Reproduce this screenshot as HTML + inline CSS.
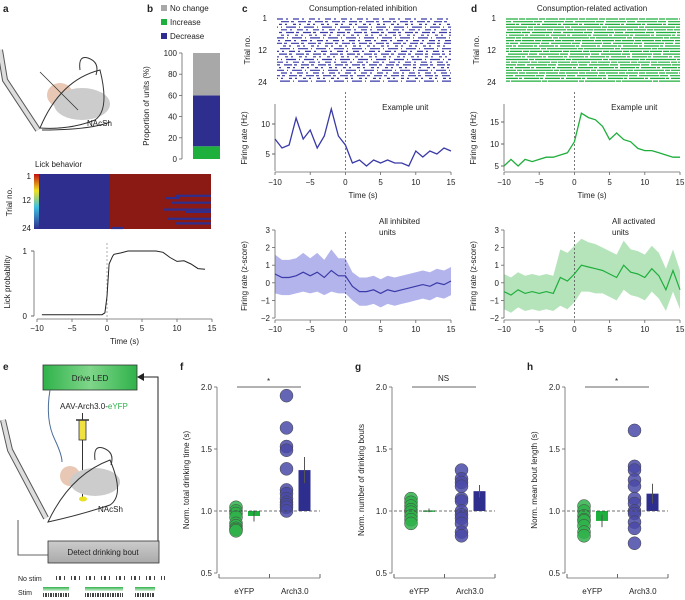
<!DOCTYPE html>
<html><head><meta charset="utf-8"><style>
body{margin:0;background:#fff}
svg{display:block;font-family:"Liberation Sans",Arial,sans-serif}
text{fill:#222}
</style></head><body>
<svg id="fig" width="685" height="600" viewBox="0 0 685 600" xmlns="http://www.w3.org/2000/svg">
<g font-weight="bold" font-size="10">
<text x="3" y="12">a</text><text x="147" y="12">b</text><text x="242" y="12">c</text><text x="471" y="12">d</text>
<text x="3" y="370">e</text><text x="180" y="370">f</text><text x="355" y="370">g</text><text x="527" y="370">h</text>
</g>
<!-- panel a drawing -->
<g fill="none" stroke="#333" stroke-width="1">
<path d="M0,50 L5,80 L38,130" stroke-width="6" stroke="#555"/>
<path d="M0,50 L5,80 L38,130" stroke-width="4" stroke="#ddd"/>
<ellipse cx="60" cy="95" rx="13" ry="12" fill="#e8c8b5" stroke="none"/>
<ellipse cx="82" cy="104" rx="28" ry="16" fill="#ccc" stroke="none"/>
<path d="M40,128 Q60,80 100,70 Q110,110 95,120 Q70,130 40,128Z"/>
<path d="M80,70 Q78,55 88,58 Q100,62 96,75"/>
<path d="M42,130 Q90,130 110,122"/>
<line x1="40" y1="72" x2="78" y2="110" stroke-width="0.8"/>
<text x="87" y="126" font-size="8" stroke="none" fill="#222">NAcSh</text>
</g>
<text x="35" y="167" font-size="8">Lick behavior</text>
<g id="lickRaster"></g>
<g id="lickProb"></g>
<g id="panelB"></g>
<g id="panelC"></g>
<g id="panelD"></g>
<!-- panel e -->
<g>
<defs><linearGradient id="gled" x1="0" x2="1" y1="0" y2="0"><stop offset="0" stop-color="#2fb24a"/><stop offset="0.5" stop-color="#7fd68a"/><stop offset="1" stop-color="#2fb24a"/></linearGradient>
<linearGradient id="ggr" x1="0" x2="0" y1="0" y2="1"><stop offset="0" stop-color="#ccc"/><stop offset="1" stop-color="#aaa"/></linearGradient>
<linearGradient id="gstim" x1="0" x2="0" y1="0" y2="1"><stop offset="0" stop-color="#2fb24a"/><stop offset="1" stop-color="#d8f0dc"/></linearGradient></defs>
<rect x="43" y="365" width="94" height="25" fill="url(#gled)" stroke="#333" stroke-width="0.8"/>
<text x="90" y="381" font-size="8" text-anchor="middle">Drive LED</text>
<path d="M158,541 L158,377 L140,377" fill="none" stroke="#222" stroke-width="1"/>
<path d="M137,377 l7,-4 l0,8z" fill="#222"/>
<path d="M50,390 Q45,420 55,440 Q62,455 62,462" fill="none" stroke="#4a6d9a" stroke-width="1"/>
<text x="60" y="409" font-size="8">AAV-Arch3.0-<tspan style="fill:#2fb24a">eYFP</tspan></text>
<rect x="79" y="420" width="7" height="20" fill="#f0e040" stroke="#333" stroke-width="0.8"/>
<line x1="82.5" y1="413" x2="82.5" y2="420" stroke="#333"/><line x1="76" y1="420" x2="89" y2="420" stroke="#333" stroke-width="1.5"/>
<line x1="82.5" y1="440" x2="82.5" y2="498" stroke="#333"/>
<ellipse cx="70" cy="476" rx="10" ry="10" fill="#e8c8b5"/>
<ellipse cx="95" cy="482" rx="25" ry="14" fill="#ccc"/>
<path d="M48,522 Q70,475 110,460 Q125,495 110,505 Q80,515 48,522Z" fill="none" stroke="#333"/>
<path d="M95,460 Q93,445 103,448 Q115,452 111,465" fill="none" stroke="#333"/>
<ellipse cx="83" cy="499" rx="4" ry="2.5" fill="#e8e020"/>
<text x="98" y="512" font-size="8">NAcSh</text>
<path d="M3,420 L10,450 L46,518" fill="none" stroke="#555" stroke-width="6"/>
<path d="M3,420 L10,450 L46,518" fill="none" stroke="#ddd" stroke-width="4"/>
<path d="M18,520 L18,555 L48,555" fill="none" stroke="#333" stroke-width="0.8"/>
<rect x="48" y="541" width="111" height="22" fill="url(#ggr)" stroke="#333" stroke-width="0.8"/>
<text x="103" y="555" font-size="8" text-anchor="middle">Detect drinking bout</text>
<text x="18" y="581" font-size="7">No stim</text><text x="18" y="595" font-size="7">Stim</text>
<g id="stimRows"></g>
</g>
<g id="panelF"></g>
<g id="panelG"></g>
<g id="panelH"></g>
</svg>
<script>
// ---- data ----
const lickT=[-9.3,-0.7,-0.3,0,0.3,0.8,1,2,3,7,8,9,10,11,12,13,14];
const lickP=[0.02,0.02,0.05,0.3,0.8,0.92,0.95,0.97,1,1,0.98,0.9,0.84,0.85,0.8,0.73,0.72];
const propCats=["Increase","Decrease","No change"];
const propVals=[12,48,40];
const timeTicks=[-10,-5,0,5,10,15];
const exTime=[-10,-9,-8,-7,-6,-5,-4,-3,-2,-1,0,1,2,3,4,5,6,7,8,9,10,11,12,13,14,15];
const inhEx=[7.5,6,6.5,11,7.5,9,6,8,12.5,8,6.5,3.5,4,3,4,3.5,4,3.5,3.5,3,5.5,4.5,5.5,5,6,5.5];
const actEx=[5,6.5,5,6.5,6,6.5,7,7,7.5,8,10.5,17,16,15.5,14,11,12.5,11,10.5,9,8.5,8.5,8,7.5,7,7];
const inhZ=[0.5,0.3,0.3,0.4,0.6,0.4,0.6,0.3,0.7,0.4,0.4,-0.2,-0.5,-0.5,-0.4,-0.6,-0.4,-0.5,-0.4,-0.3,-0.2,-0.1,-0.2,0,-0.1,0.1];
const inhZerr=[1.1,1,1,1,1.1,1,1.1,1,1.2,1,1,0.8,0.8,0.8,0.8,0.8,0.8,0.8,0.8,0.8,0.8,0.8,0.8,0.8,0.8,0.8];
const actZ=[-0.5,-0.7,-0.4,-0.6,-0.5,-0.6,-0.5,-0.6,0.3,0.1,0.5,1.0,0.9,0.8,0.7,0.5,0.3,1.0,0.6,0.5,0.3,0.8,0.4,-0.4,0.7,-0.4];
const actZerr=[1,1,1,1,1,1,1,1,1.6,1.6,1.6,1.5,1.4,1.4,1.3,1.3,1.3,1.4,1.3,1.3,1.3,1.3,1.3,1.2,1.2,1.1];
const groups=["eYFP","Arch3.0"];
const fEyfp=[1.03,1.0,0.98,0.95,0.9,0.88,0.86,0.85,0.84], fArch=[1.93,1.67,1.52,1.49,1.34,1.17,1.14,1.1,1.07,1.05,1.03,1.0];
const fBars=[0.96,1.33], fErr=[0.045,0.105];
const gEyfp=[1.1,1.07,1.04,1.01,0.99,0.96,0.93,0.9], gArch=[1.33,1.26,1.23,1.2,1.1,1.08,1.0,0.97,0.94,0.9,0.83,0.8];
const gBars=[1.005,1.16], gErr=[0.015,0.05];
const hEyfp=[1.04,1.0,0.96,0.93,0.92,0.88,0.83,0.8], hArch=[1.65,1.36,1.33,1.25,1.2,1.1,1.06,1.0,0.98,0.91,0.86,0.74];
const hBars=[0.92,1.14], hErr=[0.05,0.08];
const yTicksNorm=[0.5,1.0,1.5,2.0];
const sigLabels=["*","NS","*"];
const BLUE="#2e2e8f", GREEN="#1db03c";
const NS="http://www.w3.org/2000/svg";
function mk(tag,attrs,parent,txt){const e=document.createElementNS(NS,tag);for(const k in attrs)e.setAttribute(k,attrs[k]);if(txt!==undefined)e.textContent=txt;parent.appendChild(e);return e;}
function lin(d0,d1,r0,r1){return v=>r0+(v-d0)/(d1-d0)*(r1-r0);}
function xAxis(g,x,y0,ticks,ylab){mk('line',{x1:x(ticks[0]),x2:x(ticks[ticks.length-1]),y1:y0,y2:y0,stroke:'#666','stroke-width':0.8},g);
 ticks.forEach(t=>{mk('line',{x1:x(t),x2:x(t),y1:y0,y2:y0+3,stroke:'#666','stroke-width':0.8},g);const l=mk('text',{x:x(t),y:ylab,'font-size':8,'text-anchor':'middle'},g,t<0?'\u2212'+(-t):String(t));});}
function yAxis(g,y,x0,ticks,fmt){mk('line',{x1:x0,x2:x0,y1:y(ticks[0]),y2:y(ticks[ticks.length-1]),stroke:'#666','stroke-width':0.8},g);
 ticks.forEach(t=>{mk('line',{x1:x0-3,x2:x0,y1:y(t),y2:y(t),stroke:'#666','stroke-width':0.8},g);const l=mk('text',{x:x0-5,y:y(t)+3,'font-size':8,'text-anchor':'end'},g,fmt?fmt(t):(t<0?'\u2212'+(-t):String(t)));});}
function ylabel(g,x,y,txt){const t=mk('text',{x:x,y:y,'font-size':8,'text-anchor':'middle',transform:`rotate(-90 ${x} ${y})`},g,txt);}
function path(xs,ys,x,y){return xs.map((v,i)=>(i?'L':'M')+x(v).toFixed(1)+','+y(ys[i]).toFixed(1)).join('');}
// ---- a raster ----
(function(){const g=document.getElementById('lickRaster');
 mk('rect',{x:39,y:174,width:172,height:55,fill:'#8b1a14'},g);
 mk('rect',{x:39,y:174,width:71,height:55,fill:'#2e2e8f'},g);
 const cb=mk('linearGradient',{id:'jet',x1:0,x2:0,y1:0,y2:1},g);
 [['0','#c01010'],['0.3','#f0e020'],['0.6','#40c0e0'],['1','#2e2e8f']].forEach(s=>mk('stop',{offset:s[0],'stop-color':s[1]},cb));
 mk('rect',{x:34,y:174,width:5,height:55,fill:'url(#jet)'},g);
 const rows=[[9,175,211],[10,166,180],[12,172,211],[15,164,211],[16,185,211],[19,168,211],[21,175,211],[23,111,123]];
 rows.forEach(r=>mk('rect',{x:r[1],y:174+r[0]*2.3,width:r[2]-r[1],height:2.2,fill:'#2e2e8f'},g));
 [["1",177],["12",201],["24",229]].forEach(a=>mk('text',{x:31,y:a[1]+2,'font-size':8,'text-anchor':'end'},g,a[0]));
 ylabel(g,12,202,'Trial no.');})();
// ---- a lick prob ----
(function(){const g=document.getElementById('lickProb');const x=lin(-10,15,37,212),y=lin(0,1,316,251);
 mk('line',{x1:34,x2:34,y1:251,y2:316,stroke:'#666','stroke-width':0.8},g);
 [[0,'0'],[1,'1']].forEach(a=>{mk('line',{x1:31,x2:34,y1:y(a[0]),y2:y(a[0]),stroke:'#666'},g);mk('text',{x:27,y:y(a[0])+3,'font-size':8,'text-anchor':'end'},g,a[1]);});
 xAxis(g,x,319,timeTicks,331);
 mk('line',{x1:x(0),x2:x(0),y1:243,y2:319,stroke:'#999','stroke-dasharray':'2,2','stroke-width':0.8},g);
 const p=mk('path',{d:path(lickT,lickP,x,y),fill:'none',stroke:'#222','stroke-width':1},g);
 ylabel(g,10,282,'Lick probability');mk('text',{x:x(2.5),y:344,'font-size':8,'text-anchor':'middle'},g,'Time (s)');})();
// ---- b ----
(function(){const g=document.getElementById('panelB');const y=lin(0,100,159,53);
 const cols=[GREEN,BLUE,'#a8a8a8'];let acc=0;
 propVals.forEach((v,i)=>{const r=mk('rect',{x:193,y:y(acc+v),width:27,height:y(acc)-y(acc+v),fill:cols[i]},g);acc+=v;});
 yAxis(g,y,182,[0,20,40,60,80,100]);ylabel(g,149,106,'Proportion of units (%)');
 ['No change','Increase','Decrease'].forEach((n,i)=>{const c=[ '#a8a8a8',GREEN,BLUE][i];mk('rect',{x:161,y:5+i*14,width:6,height:6,fill:c},g);const t=mk('text',{x:170,y:11+i*14,'font-size':8},g,n);});})();
// ---- raster helper ----
function raster(g,x0,x1,color,dens){for(let r=0;r<24;r++){const yy=19+r*2.7;const da=dens[r%dens.length];mk('line',{x1:x0,x2:x1,y1:yy,y2:yy,stroke:color,'stroke-width':1.2,'stroke-dasharray':da,'stroke-dashoffset':r*3},g);}}
function panel(id,x0,x1,color,light,title,ex,exTicks,exRange,ey0,ey1,z,zerr,zlabel,exLabelX,dens){
 const g=document.getElementById(id);const x=lin(-10,15,x0,x1);
 mk('text',{x:(x0+x1)/2,y:11,'font-size':8,'text-anchor':'middle'},g,title);
 raster(g,x0+2,x1,color,dens);
 [["1",21],["12",53],["24",85]].forEach(a=>mk('text',{x:x0-8,y:a[1],'font-size':8,'text-anchor':'end'},g,a[0]));
 ylabel(g,x0-25,50,'Trial no.');
 const y=lin(exRange[0],exRange[1],ey0,ey1);
 mk('line',{x1:x0,x2:x0,y1:104,y2:171,stroke:'#666','stroke-width':0.8},g);
 exTicks.forEach(t=>{mk('line',{x1:x0-3,x2:x0,y1:y(t),y2:y(t),stroke:'#666'},g);mk('text',{x:x0-5,y:y(t)+3,'font-size':8,'text-anchor':'end'},g,String(t));});
 xAxis(g,x,172,timeTicks,185);mk('text',{x:x(2.5),y:198,'font-size':8,'text-anchor':'middle'},g,'Time (s)');
 mk('line',{x1:x(0),x2:x(0),y1:92,y2:172,stroke:'#555','stroke-dasharray':'2,2','stroke-width':0.8},g);
 const l=mk('path',{d:path(exTime,ex,x,y),fill:'none',stroke:color,'stroke-width':1.3},g);
 mk('text',{x:x(8.5),y:110,'font-size':8,'text-anchor':'middle'},g,'Example unit');ylabel(g,x0-28,138,'Firing rate (Hz)');
 const yz=lin(-2,3,318,230);
 const up=exTime.map((t,i)=>z[i]+zerr[i]),dn=exTime.map((t,i)=>z[i]-zerr[i]);
 const band=path(exTime,up,x,yz)+path(exTime.slice().reverse(),dn.slice().reverse(),x,yz).replace('M','L')+'Z';
 const b=mk('path',{d:band,fill:light,stroke:'none'},g);
 yAxis(g,yz,x0,[-2,-1,0,1,2,3]);xAxis(g,x,320,timeTicks,332);
 mk('line',{x1:x(0),x2:x(0),y1:232,y2:320,stroke:'#555','stroke-dasharray':'2,2','stroke-width':0.8},g);
 const zl=mk('path',{d:path(exTime,z,x,yz),fill:'none',stroke:color,'stroke-width':1.2},g);
 mk('text',{x:exLabelX,y:224,'font-size':8},g,zlabel[0]);mk('text',{x:exLabelX,y:235,'font-size':8},g,zlabel[1]);
 ylabel(g,x0-28,276,'Firing rate (z-score)');}
panel('panelC',275,451,'#3a3aa8','#b4b4ec','Consumption-related inhibition',inhEx,[5,10],[5,10],154,124,inhZ,inhZerr,['All inhibited','units'],379,['6,3,2,5','3,4,8,2','2,6,3,3','10,3,1,4']);
panel('panelD',504,680,'#1fae3c','#b5e4bb','Consumption-related activation',actEx,[5,10,15],[5,15],166,122,actZ,actZerr,['All activated','units'],612,['12,1,6,1','8,2,20,1','15,1,3,2','30,1,5,1']);
// ---- stim rows ----
(function(){const g=document.getElementById('stimRows');
 mk('line',{x1:56,x2:165,y1:578,y2:578,stroke:'#444','stroke-width':4,'stroke-dasharray':'1,2,2,3,1,6'},g);
 [[43,69],[85,123],[135,155]].forEach(s=>{mk('rect',{x:s[0],y:587,width:s[1]-s[0],height:4,fill:'url(#gstim)'},g);mk('line',{x1:s[0],x2:s[1],y1:595,y2:595,stroke:'#444','stroke-width':4,'stroke-dasharray':'1,1,2,1'},g);});})();
// ---- f g h ----
function dotPanel(id,ax,xl,xr,label,eyfp,arch,bars,err,sig){
 const g=document.getElementById(id);const y=lin(0.5,2.0,573,387);
 const xm=(xl+xr)/2, dx=[xl+17,xm+17], bx=[xl+29,xm+29];
 yAxis(g,y,ax,yTicksNorm,t=>t.toFixed(1));
 mk('line',{x1:xl,x2:xr,y1:578,y2:578,stroke:'#666','stroke-width':0.8},g);
 [xl,xm,xr].forEach(t=>mk('line',{x1:t,x2:t,y1:578,y2:574,stroke:'#666'},g));
 groups.forEach((n,i)=>mk('text',{x:(i?xm+xr:xl+xm)/2,y:594,'font-size':8,'text-anchor':'middle'},g,n));
 ylabel(g,ax-28,480,label);
 [[eyfp,GREEN,'#2fb24a'],[arch,BLUE,'#4a4aa8']].forEach((s,i)=>s[0].forEach(v=>{const c=mk('circle',{cx:dx[i],cy:y(v),r:6.5,fill:s[2],'fill-opacity':0.85,stroke:'#444','stroke-width':0.5},g);}));
 bars.forEach((v,i)=>{const r=mk('rect',{x:bx[i],y:Math.min(y(v),y(1)),width:12,height:Math.max(1.5,Math.abs(y(v)-y(1))),fill:i?'#2e2e8f':GREEN},g);
  mk('line',{x1:bx[i]+6,x2:bx[i]+6,y1:y(v-err[i]),y2:y(v+err[i]),stroke:'#555','stroke-width':1},g);});
 mk('line',{x1:xl,x2:xr,y1:y(1),y2:y(1),stroke:'#444','stroke-dasharray':'3,2','stroke-width':0.8},g);
 mk('line',{x1:xl+18,x2:xr-19,y1:387,y2:387,stroke:'#333','stroke-width':0.8},g);
 mk('text',{x:(xl+xr)/2-1,y:sig==='*'?384:381,'font-size':sig==='*'?8:8,'text-anchor':'middle'},g,sig);}
dotPanel('panelF',217,219,320,'Norm. total drinking time (s)',fEyfp,fArch,fBars,fErr,sigLabels[0]);
dotPanel('panelG',392,394,495,'Norm. number of drinking bouts',gEyfp,gArch,gBars,gErr,sigLabels[1]);
dotPanel('panelH',565,567,668,'Norm. mean bout length (s)',hEyfp,hArch,hBars,hErr,sigLabels[2]);
</script>
</body></html>
